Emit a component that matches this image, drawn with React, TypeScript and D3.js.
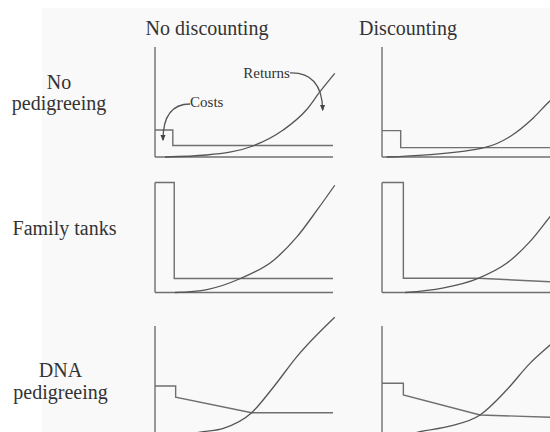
import React, { useEffect, useRef } from 'react';
import * as d3 from 'd3';

type Pt = [number, number];

// column / row headings
const columnTitles = ['No discounting', 'Discounting'];
const rowLabels = [['No', 'pedigreeing'], ['Family tanks'], ['DNA', 'pedigreeing']];

// costs and returns over time (time 0-10, value 0-10)
const costsNoPedNoDisc: Pt[] = [[0, 2.45], [1.0, 2.45], [1.0, 1.05], [10, 1.05]];
const returnsNoPedNoDisc: Pt[] = [[0.56, 0], [2.9, 0.18], [5.5, 1.0], [7.2, 2.45], [8.5, 4.27], [9.27, 5.94], [10.1, 7.6]];
const costsNoPedDisc: Pt[] = [[0, 2.4], [1.05, 2.4], [1.05, 0.87], [10, 0.85]];
const returnsNoPedDisc: Pt[] = [[0.26, 0], [2.5, 0.2], [5.8, 0.87], [7.2, 1.87], [8.5, 3.55], [9.4, 5.05], [10, 5.9]];

const costsFamNoDisc: Pt[] = [[0, 10], [1.08, 10], [1.08, 1.27], [10, 1.27]];
const returnsFamNoDisc: Pt[] = [[1.12, 0], [2.92, 0.27], [4.8, 1.27], [6.67, 2.94], [7.97, 5.05], [9.1, 7.48], [10.1, 9.75]];
const costsFamDisc: Pt[] = [[0, 10], [1.2, 10], [1.2, 1.29], [5.4, 1.29], [10, 0.94]];
const returnsFamDisc: Pt[] = [[1.3, 0], [3.4, 0.4], [5.41, 1.29], [7.0, 2.65], [8.31, 4.62], [9.44, 6.89], [10, 8.0]];

const costsDnaNoDisc: Pt[] = [[0, 4.55], [1.16, 4.55], [1.16, 3.52], [5.43, 2.12], [10, 2.12]];
const returnsDnaNoDisc: Pt[] = [[1.2, 0], [2.71, 0.39], [3.84, 0.7], [5.43, 2.12], [6.67, 4.48], [7.96, 7.2], [10.1, 10.8]];
const costsDnaDisc: Pt[] = [[0, 4.79], [1.2, 4.79], [1.2, 3.73], [5.51, 1.91], [9.44, 1.7], [10, 1.67]];
const returnsDnaDisc: Pt[] = [[1.2, 0], [2.13, 0.39], [3.8, 0.9], [5.51, 1.91], [7.0, 4.18], [8.31, 6.6], [9.44, 8.27], [10, 9.1]];

const panelCosts = [
  [costsNoPedNoDisc, costsNoPedDisc],
  [costsFamNoDisc, costsFamDisc],
  [costsDnaNoDisc, costsDnaDisc],
];
const panelReturns = [
  [returnsNoPedNoDisc, returnsNoPedDisc],
  [returnsFamNoDisc, returnsFamDisc],
  [returnsDnaNoDisc, returnsDnaDisc],
];

// annotation anchors in the first panel (data units)
const returnsLabel = { text: 'Returns', at: [7.58, 7.14] as Pt, arrow: [[7.58, 7.64], [9.38, 7.73], [9.42, 4.27]] as Pt[] };
const costsLabel = { text: 'Costs', at: [1.97, 4.59] as Pt, arrow: [[1.97, 4.82], [0.45, 4.82], [0.45, 1.55]] as Pt[] };

export default function App() {
  const svgRef = useRef<SVGSVGElement>(null);

  useEffect(() => {
    if (!svgRef.current) return;
    const svg = d3.select(svgRef.current);
    svg.selectAll('*').remove();

    const width = 550;
    const height = 432;
    const colX = [155, 382];
    const rowBase = [157, 292.5, 436];
    const panelW = 178;
    const panelH = 110;
    const font = "'Liberation Serif', 'Times New Roman', serif";
    const ink = '#333';
    const lineColor = '#6f6f6f';

    svg.attr('width', width).attr('height', height);

    svg.append('rect').attr('width', width).attr('height', height).attr('fill', '#fff');
    svg.append('rect').attr('x', 42).attr('y', 8).attr('width', width - 42).attr('height', height - 8).attr('fill', '#f9f9f9');

    // column titles
    const titleX = [207, 408];
    columnTitles.forEach((t, i) => {
      svg.append('text')
        .attr('x', titleX[i]).attr('y', 35)
        .attr('text-anchor', 'middle')
        .attr('font-family', font).attr('font-size', 20)
        .attr('fill', ink).text(t);
    });

    // row labels
    const labelX = [59, 64.5, 60.5];
    const labelY = [[89, 110], [235], [377, 399]];
    rowLabels.forEach((lines, r) => {
      lines.forEach((ln, k) => {
        svg.append('text')
          .attr('x', labelX[r]).attr('y', labelY[r][k])
          .attr('text-anchor', 'middle')
          .attr('font-family', font).attr('font-size', 20)
          .attr('fill', ink).text(ln);
      });
    });

    const scales: { x: d3.ScaleLinear<number, number>; y: d3.ScaleLinear<number, number> }[][] = [];

    rowBase.forEach((yb, r) => {
      scales.push([]);
      colX.forEach((x0, c) => {
        const x = d3.scaleLinear().domain([0, 10]).range([x0, x0 + panelW]);
        const y = d3.scaleLinear().domain([0, 10]).range([yb, yb - panelH]);
        scales[r].push({ x, y });
        const g = svg.append('g');

        // axes
        g.append('line')
          .attr('x1', x(0)).attr('x2', x(0)).attr('y1', y(0)).attr('y2', y(10))
          .attr('stroke', lineColor).attr('stroke-width', 1.4);
        g.append('line')
          .attr('x1', x(0)).attr('x2', x(10)).attr('y1', y(0)).attr('y2', y(0))
          .attr('stroke', lineColor).attr('stroke-width', 1.4);

        // costs
        const costLine = d3.line<Pt>().x((d) => x(d[0])).y((d) => y(d[1]));
        g.append('path')
          .attr('d', costLine(panelCosts[r][c]))
          .attr('fill', 'none').attr('stroke', lineColor).attr('stroke-width', 1.4)
          .attr('stroke-linejoin', 'miter');

        // returns
        const retLine = d3.line<Pt>().x((d) => x(d[0])).y((d) => y(d[1])).curve(d3.curveMonotoneX);
        g.append('path')
          .attr('d', retLine(panelReturns[r][c]))
          .attr('fill', 'none').attr('stroke', '#555').attr('stroke-width', 1.3);
      });
    });

    // annotations in the first panel
    const { x, y } = scales[0][0];
    const defs = svg.append('defs');
    defs.append('marker')
      .attr('id', 'arrowHead')
      .attr('viewBox', '0 0 10 10')
      .attr('refX', 8).attr('refY', 5)
      .attr('markerWidth', 5).attr('markerHeight', 5)
      .attr('orient', 'auto')
      .append('path').attr('d', 'M0,1 L10,5 L0,9 Z').attr('fill', '#444');

    [returnsLabel, costsLabel].forEach((a) => {
      const [p0, p1, p2] = a.arrow;
      const path = d3.path();
      path.moveTo(x(p0[0]), y(p0[1]));
      path.quadraticCurveTo(x(p1[0]), y(p1[1]), x(p2[0]), y(p2[1]));
      svg.append('path')
        .attr('d', path.toString())
        .attr('fill', 'none').attr('stroke', '#555').attr('stroke-width', 1.3)
        .attr('marker-end', 'url(#arrowHead)');
    });

    svg.append('text')
      .attr('x', x(returnsLabel.at[0])).attr('y', y(returnsLabel.at[1]))
      .attr('text-anchor', 'end')
      .attr('font-family', font).attr('font-size', 15)
      .attr('fill', ink).text(returnsLabel.text);
    svg.append('text')
      .attr('x', x(costsLabel.at[0])).attr('y', y(costsLabel.at[1]))
      .attr('text-anchor', 'start')
      .attr('font-family', font).attr('font-size', 15)
      .attr('fill', ink).text(costsLabel.text);
  }, []);

  return (
    <svg ref={svgRef} style={{ position: 'absolute', left: 0, top: 0, display: 'block' }}></svg>
  );
}
